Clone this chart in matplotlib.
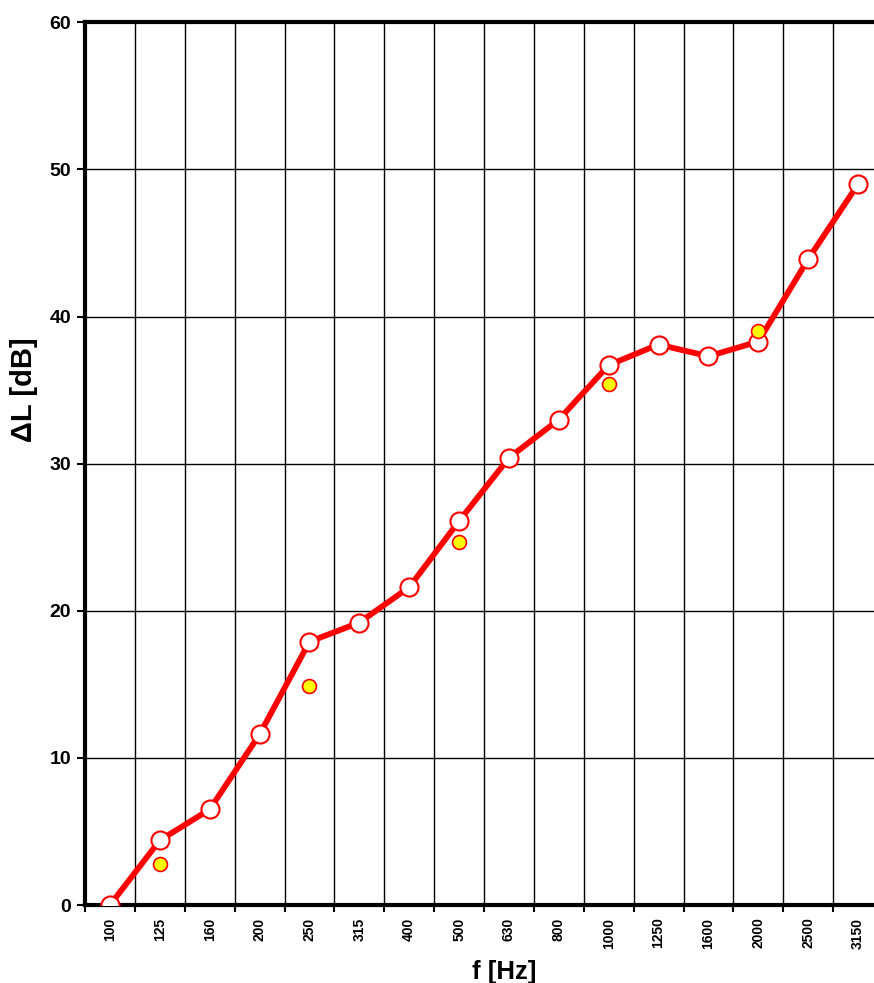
import numpy as np
import matplotlib.pyplot as plt

plt.rcParams['font.family'] = ['Liberation Sans', 'DejaVu Sans']
plt.rcParams['font.weight'] = 'bold'

freqs = ['100', '125', '160', '200', '250', '315', '400', '500',
         '630', '800', '1000', '1250', '1600', '2000', '2500', '3150']
dL = [0.0, 4.4, 6.5, 11.6, 17.9, 19.2, 21.6, 26.1,
      30.4, 33.0, 36.7, 38.1, 37.3, 38.3, 43.9, 49.0]

# octave-band points (yellow)
oct_freqs = ['125', '250', '500', '1000', '2000']
oct_dL = [2.8, 14.9, 24.7, 35.4, 39.0]

x = np.arange(len(freqs))
x_oct = [freqs.index(f) for f in oct_freqs]

fig = plt.figure(figsize=(8.74, 9.83), dpi=100)
ax = fig.add_axes([0.0973, 0.0793, 0.913, 0.898])

ax.plot(x, dL, color='red', lw=4.2, marker='o', ms=13,
        mfc='white', mec='red', mew=1.5, zorder=3)
ax.plot(x_oct, oct_dL, ls='none', marker='o', ms=10,
        mfc='yellow', mec='red', mew=1.2, zorder=4)

ax.set_xlim(-0.5, len(freqs) - 0.5)
ax.set_ylim(0, 60)
ax.set_yticks(np.arange(0, 61, 10))
ax.set_xticks(np.arange(-0.5, len(freqs), 1.0))
ax.set_xticklabels([])
ax.set_xticks(x, minor=True)
ax.set_xticklabels(freqs, minor=True, rotation=90, fontsize=10, fontweight='bold')
ax.tick_params(axis='x', which='minor', length=0, pad=9)
ax.tick_params(axis='x', which='major', length=5, width=1.5, direction='out')
ax.tick_params(axis='y', length=6, width=1.5, labelsize=14, pad=4)
for lab in ax.get_yticklabels():
    lab.set_fontweight('bold')

ax.grid(True, which='major', color='black', lw=1.0)
ax.set_axisbelow(True)

for s in ['left', 'bottom', 'top']:
    ax.spines[s].set_linewidth(3)
ax.spines['right'].set_visible(False)

ax.set_xlabel('f [Hz]', fontsize=18.5, fontweight='bold')
ax.set_ylabel('ΔL [dB]', fontsize=21, fontweight='bold')
ax.xaxis.set_label_coords(0.525, -0.062)
ax.yaxis.set_label_coords(-0.059, 0.584)

fig.savefig('out.png', dpi=100)
